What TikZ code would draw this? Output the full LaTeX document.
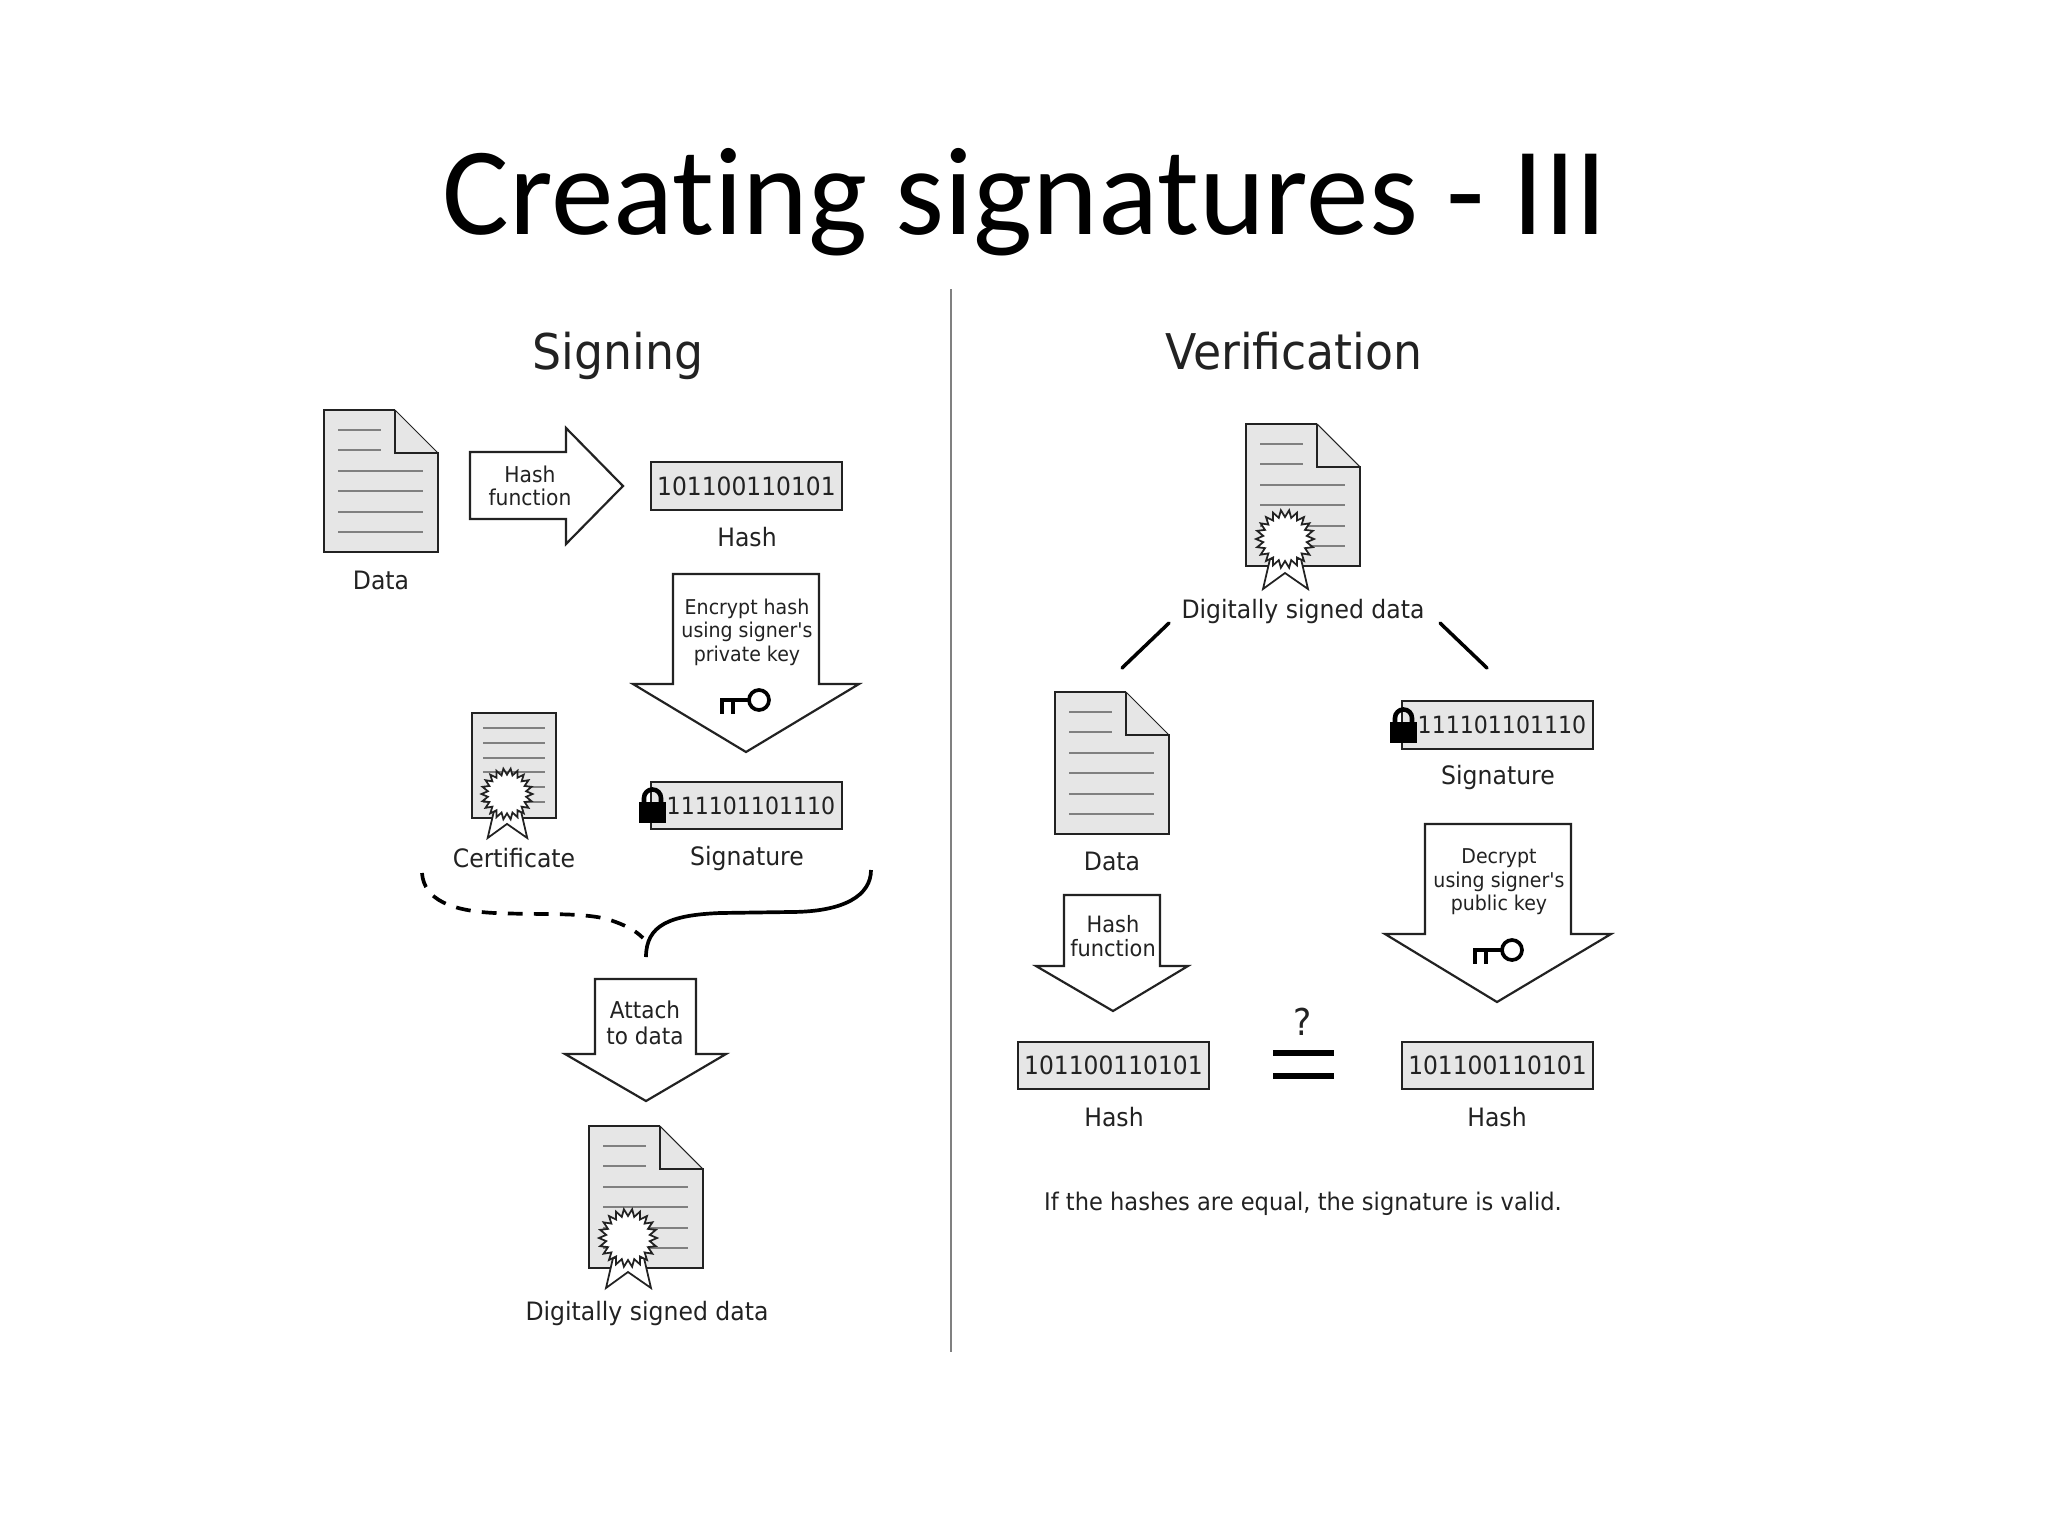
\documentclass[tikz,border=0pt]{standalone}
\usepackage{fontspec}
\setmainfont{DejaVu Sans}
\newfontfamily\dv{DejaVu Sans}[FakeStretch=0.93]
\newfontfamily\titlefont{Carlito}[RawFeature={-liga}]
\definecolor{paper}{HTML}{E6E6E6}
\definecolor{ink}{HTML}{222222}
\definecolor{rule}{HTML}{808080}
\tikzset{
  x=0.01cm,y=-0.01cm,
  outline/.style={draw=ink,line width=0.62pt,line join=miter},
  arrowshape/.style={outline,fill=white},
  txt/.style={inner sep=0pt,outer sep=0pt,text=ink,align=center,font=\dv\fontsize{7.2pt}{8pt}\selectfont},
  small/.style={txt,font=\dv\fontsize{5.8pt}{6.7pt}\selectfont},
  hashfn/.style={txt,font=\dv\fontsize{6.2pt}{6.7pt}\selectfont},
  hashfnb/.style={txt,font=\dv\fontsize{6.4pt}{7pt}\selectfont},
  attachtxt/.style={txt,font=\dv\fontsize{6.6pt}{7.4pt}\selectfont},
  foottxt/.style={txt,font=\dv\fontsize{6.9pt}{8pt}\selectfont},
  bits/.style={txt,font=\dv\fontsize{7.15pt}{9pt}\selectfont},
  sigbits/.style={txt,font=\dv\fontsize{6.75pt}{9pt}\selectfont},
  head/.style={txt,anchor=base,font=\dv\fontsize{14pt}{15pt}\selectfont},
  bitbox/.style={draw=ink,line width=0.62pt,fill=paper,minimum width=1.905cm,minimum height=0.475cm,inner sep=0},
  docline/.style={draw=rule,line width=0.4pt},
  thick link/.style={draw=black,line width=1pt,line cap=round},
  curly/.style={draw=black,line width=1.05pt,line cap=butt},
  pics/doc/.style={code={
    \fill[paper] (0,0)--(71,0)--(114,43)--(114,142)--(0,142)--cycle;
    \foreach \yy in {20,40} \draw[docline] (14,\yy)--(57,\yy);
    \foreach \yy in {61,81,102,122} \draw[docline] (14,\yy)--(99,\yy);
    \draw[outline,line width=0.7pt] (71,0)--(71,43)--(114,43)--(114,142)--(0,142)--(0,0)--(71,0);
    \draw[draw=ink,line width=0.3pt] (71,0)--(114,43);
  }},
  pics/sealmark/.style={code={
    \draw[draw=ink,line width=0.5pt,fill=white,line join=miter] (-15,20)--(-22,50)--(0,34)--(23,50)--(16,20)--cycle;
    \draw[draw=ink,line width=0.5pt,fill=white,line join=miter]
      plot[samples at={0,...,43},variable=\k] ({cos(\k*360/44)*(29-mod(\k,2)*7)},{sin(\k*360/44)*(29-mod(\k,2)*7)}) -- cycle;
  }},
  pics/lockmark/.style={code={
    \fill[black] (0,15) rectangle (27,36);
    \draw[black,line width=1.3pt] (5,20)--(5,11) arc[start angle=180,end angle=0,x radius=8.5,y radius=-8.5]--(22,20);
  }},
  pics/keymark/.style={code={
    \draw[black,line width=1.05pt] (39,0) circle[radius=10];
    \draw[black,line width=1.05pt] (29,0)--(0,0);
    \draw[black,line width=1.05pt] (2,-1)--(2,14) (13,-1)--(13,14);
  }},
}
\begin{document}
\begin{tikzpicture}
\useasboundingbox (0,0) rectangle (2048,1536);
\fill[white] (0,0) rectangle (2048,1536);
\node[inner sep=0,text=black,font=\titlefont\fontsize{35.6pt}{40pt}\selectfont] (title) at (1025,202) {Creating signatures - III};
\coordinate (ruleTop) at (951,289); \coordinate (ruleBot) at (951,1352);
\draw[draw=rule,line width=0.4pt] (ruleTop)--(ruleBot);
\node[head] (signing) at (618,369) {Signing};
\node[head] (verif) at (1294,369) {Verification};

% signing
\pic at (324,410) {doc};
\node[txt] (ldata) at (381,580) {Data};
\draw[arrowshape] (470,452)--(566,452)--(566,428)--(623,486)--(566,544)--(566,519)--(470,519)--cycle;
\node[hashfn] (lhf) at (530,486) {Hash\\function};
\node[bitbox] (lhash) at (746.5,486) {};
\node[bits] at (lhash.center) {101100110101};
\node[txt] (lhasht) at (747,537) {Hash};
\draw[arrowshape] (673,574)--(819,574)--(819,684)--(859,684)--(746,752)--(633,684)--(673,684)--cycle;
\node[small] (enc) at (747,632) {Encrypt hash\\using signer's\\private key};
\pic at (720,700) {keymark};
\fill[paper] (472,713) rectangle (556,818);
\foreach \yy in {728,743,758,772,787,802} \draw[docline] (483,\yy)--(545,\yy);
\draw[outline,line width=0.7pt] (472,713) rectangle (556,818);
\pic[scale=0.88] at (507,794) {sealmark};
\node[txt] (cert) at (514,858) {Certificate};
\node[bitbox] (lsig) at (746.5,805.5) {};
\node[sigbits] at (751,806) {111101101110};
\pic at (639,787) {lockmark};
\node[txt] (lsigt) at (747,859) {Signature};
\draw[curly,dash pattern=on 4.2pt off 3.2pt] (422,873) .. controls (424,900) and (452,911) .. (495,913) .. controls (540,915) and (585,912) .. (610,920) .. controls (625,925) and (635,930) .. (643,938);
\draw[curly] (871,870) .. controls (871,895) and (845,912) .. (790,912) -- (720,913) .. controls (670,915) and (646,925) .. (646,957);
\draw[arrowshape] (595,979)--(696,979)--(696,1054)--(726,1054)--(646,1101)--(565,1054)--(595,1054)--cycle;
\node[attachtxt] (attach) at (645,1023) {Attach\\to data};
\pic at (589,1126) {doc};
\pic at (628,1238) {sealmark};
\node[txt] (lsd) at (647,1313) {Digitally signed data};

% verification
\pic at (1246,424) {doc};
\pic at (1285,539) {sealmark};
\node[txt] (rsd) at (1303,612) {Digitally signed data};
\coordinate (la) at (1169,623); \coordinate (lb) at (1122,668);
\coordinate (ra) at (1440,623); \coordinate (rb) at (1487,668);
\draw[thick link] (la)--(lb);
\draw[thick link] (ra)--(rb);
\pic at (1055,692) {doc};
\node[txt] (rdata) at (1112,861) {Data};
\node[bitbox] (rsig) at (1497.5,725) {};
\node[sigbits] at (1502,725) {111101101110};
\pic at (1390,707) {lockmark};
\node[txt] (rsigt) at (1498,778) {Signature};
\draw[arrowshape] (1425,824)--(1571,824)--(1571,934)--(1611,934)--(1497,1002)--(1385,934)--(1425,934)--cycle;
\node[small] (dec) at (1499,882) {Decrypt\\using signer's\\public key};
\pic at (1473,950) {keymark};
\draw[arrowshape] (1064,895)--(1160,895)--(1160,966)--(1188,966)--(1113,1011)--(1036,966)--(1064,966)--cycle;
\node[hashfnb] (rhf) at (1113,936) {Hash\\function};
\node[bitbox] (rh1) at (1113.5,1065.5) {};
\node[bits] at (rh1.center) {101100110101};
\node[txt] (rh1t) at (1114,1117) {Hash};
\node[bitbox] (rh2) at (1497.5,1065.5) {};
\node[bits] at (rh2.center) {101100110101};
\node[txt] (rh2t) at (1497,1117) {Hash};
\coordinate (e1) at (1273,1053); \coordinate (e2) at (1334,1053);
\coordinate (e3) at (1273,1076); \coordinate (e4) at (1334,1076);
\draw[black,line width=1.9pt] (e1)--(e2) (e3)--(e4);
\node[txt,font=\dv\fontsize{10.5pt}{11pt}\selectfont] (q) at (1303,1022) {?};
\node[foottxt] (foot) at (1303,1204) {If the hashes are equal, the signature is valid.};
\end{tikzpicture}
\end{document}
